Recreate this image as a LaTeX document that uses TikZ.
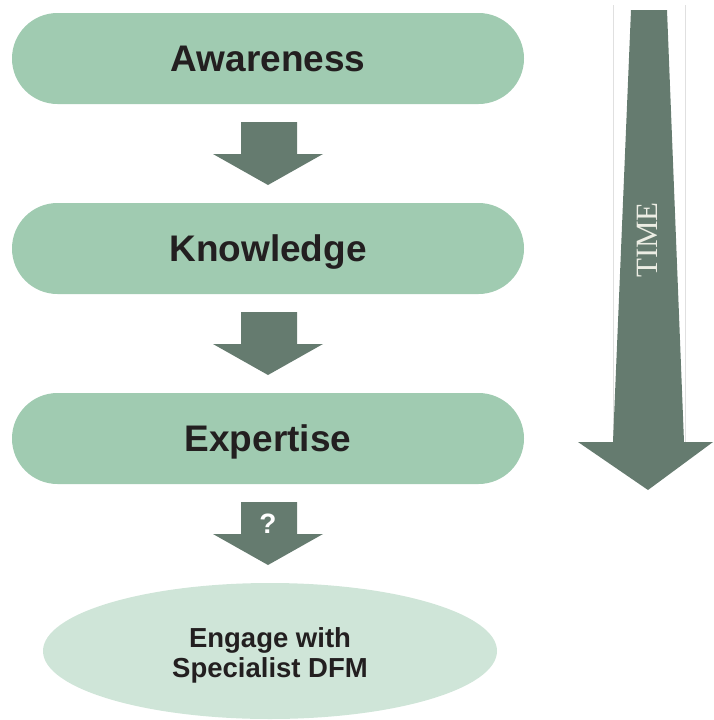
\documentclass[tikz,border=0pt]{standalone}
\usepackage{fontspec}
\setmainfont{Liberation Sans}
\newfontfamily\timefont{Liberation Serif}
\usetikzlibrary{shapes.geometric}
\definecolor{pillfill}{HTML}{A0CBB1}
\definecolor{arrowfill}{HTML}{657B6F}
\definecolor{ovalfill}{HTML}{CFE5D8}
\definecolor{txt}{HTML}{231F20}
\definecolor{timetxt}{HTML}{ECEDE4}
\definecolor{faint}{HTML}{E0E0E0}
\tikzset{
  pill/.style={draw=none, fill=pillfill, rounded corners=45.5pt, minimum width=512pt,
    minimum height=91pt, inner sep=0pt, text=txt,
    font=\fontsize{37}{40}\selectfont\bfseries, text height=26.5pt, text depth=0pt},
  oval/.style={ellipse, draw=none, fill=ovalfill, minimum width=454pt, minimum height=136pt,
    inner sep=0pt},
  ovaltext/.style={text=txt, align=center, inner sep=0pt,
    font=\fontsize{27.5}{30}\selectfont\bfseries},
  blockarrow/.style={fill=arrowfill, draw=none},
}
\begin{document}
\begin{tikzpicture}[x=1pt,y=-1pt]
\useasboundingbox (0,0) rectangle (713,720);
% pills
\node[pill] (aw) at (268,58.5) {Awareness};
\node[pill] (kn) at (268,248.5) {Knowledge};
\node[pill] (ex) at (268,438.5) {Expertise};
\node[oval] (en) at (270,651) {};
\node[ovaltext, anchor=base] (ent) at (270,677) {Engage with\\Specialist DFM};
% block arrows between stages
\fill[blockarrow] (241,122) -- (297,122) -- (297,154) -- (323,154) -- (268,185) -- (213,154) -- (241,154) -- cycle;
\fill[blockarrow] (241,312) -- (297,312) -- (297,344) -- (323,344) -- (268,375) -- (213,344) -- (241,344) -- cycle;
\fill[blockarrow] (241,502) -- (297,502) -- (297,534) -- (323,534) -- (268,565) -- (213,534) -- (241,534) -- cycle;
\node[text=white, font=\fontsize{28}{30}\selectfont\bfseries, inner sep=0pt] (q) at (268,524) {?};
% time arrow
\draw[faint, line width=0.6pt] (613,5) -- (613,442);
\draw[faint, line width=0.6pt] (685,5) -- (685,442);
\fill[blockarrow] (631,10) -- (667,10) -- (684,442) -- (713,442) -- (648,490) -- (578,442) -- (613,442) -- cycle;
\node[rotate=90, text=timetxt, font=\timefont\fontsize{31}{34}\selectfont, inner sep=0pt] (time) at (647,240) {TIME};
\end{tikzpicture}
\end{document}
